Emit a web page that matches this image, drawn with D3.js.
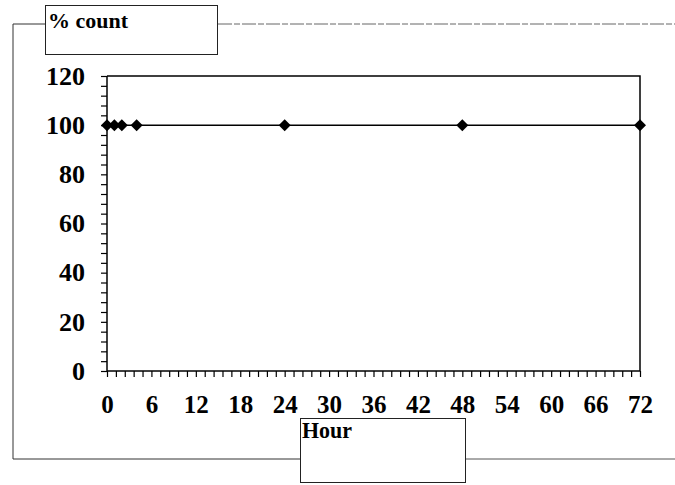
<!DOCTYPE html>
<html><head><meta charset="utf-8">
<script src="https://cdn.jsdelivr.net/npm/d3@7"></script>
<style>body{margin:0;background:#fff}svg{display:block}</style>
</head><body><svg id="c" width="675" height="485"></svg>
<script>
const hours = [0, 1, 2, 4, 24, 48, 72];
const percentCount = [100, 100, 100, 100, 100, 100, 100];
const xTicks = [0, 6, 12, 18, 24, 30, 36, 42, 48, 54, 60, 66, 72];
const yTicks = [0, 20, 40, 60, 80, 100, 120];
const yTitle = "% count";
const xTitle = "Hour";

const svg = d3.select("#c");
const L = 107, R = 640, T = 76, B = 371;
const x = d3.scaleLinear().domain([0, 72]).range([L, R]);
const y = d3.scaleLinear().domain([0, 120]).range([B, T]);
const font = "'Liberation Serif','Times New Roman',serif";

// outer frame lines
const fr = svg.append("g").attr("fill", "none").attr("stroke", "#333").attr("stroke-width", 1);
fr.append("path").attr("d", "M45,24H13V459H300");
fr.append("path").attr("d", "M466,459H675").attr("stroke", "#555");
fr.append("path").attr("d", "M218,24H675").attr("stroke", "#666").attr("stroke-dasharray", "14,2,6,2");

// title boxes
svg.append("rect").attr("x", 45.5).attr("y", 5.5).attr("width", 172).attr("height", 49)
  .attr("fill", "#fff").attr("stroke", "#222");
svg.append("text").attr("x", 48).attr("y", 28).attr("font-family", font).attr("font-weight", "bold")
  .attr("font-size", 22).attr("textLength", 80).attr("lengthAdjust", "spacingAndGlyphs").text(yTitle);
svg.append("rect").attr("x", 300.5).attr("y", 418.5).attr("width", 165).attr("height", 64)
  .attr("fill", "#fff").attr("stroke", "#222");
svg.append("text").attr("x", 302).attr("y", 438).attr("font-family", font).attr("font-weight", "bold")
  .attr("font-size", 24).attr("textLength", 50).attr("lengthAdjust", "spacingAndGlyphs").text(xTitle);

// plot border (top and right)
svg.append("path").attr("d", `M${L},${T}H${R}V${B}`).attr("fill", "none").attr("stroke", "#000").attr("stroke-width", 1.5);

// minor ticks
const yMinor = d3.range(0, 121, 4);
const xMinor = d3.range(0, 72.01, 1.2);
const yAxis = svg.append("g").attr("transform", `translate(${L},0)`)
  .call(d3.axisLeft(y).tickValues(yMinor).tickSize(6).tickFormat(""));
const xAxis = svg.append("g").attr("transform", `translate(0,${B})`)
  .call(d3.axisBottom(x).tickValues(xMinor).tickSize(6).tickFormat(""));
[yAxis, xAxis].forEach(a => {
  a.select(".domain").attr("stroke", "#000").attr("stroke-width", 1.5);
  a.selectAll("line").attr("stroke", "#000").attr("stroke-width", 1.2);
});
xAxis.select(".domain").attr("d", `M${L},0H${R}`);
yAxis.select(".domain").attr("d", `M0,${B}V${T}`);

// labels
const yl = svg.append("g").attr("transform", `translate(${L},0)`)
  .call(d3.axisLeft(y).tickValues(yTicks).tickSize(0).tickPadding(22));
yl.select(".domain").remove();
yl.selectAll("text").attr("font-family", font).attr("font-weight", "bold").attr("font-size", 26).attr("fill", "#000");
const xl = svg.append("g").attr("transform", `translate(0,${B})`)
  .call(d3.axisBottom(x).tickValues(xTicks).tickSize(0).tickPadding(24));
xl.select(".domain").remove();
xl.selectAll("text").attr("font-family", font).attr("font-weight", "bold").attr("font-size", 25).attr("fill", "#000");

// data line
svg.append("path").datum(hours.map((h, i) => [h, percentCount[i]]))
  .attr("fill", "none").attr("stroke", "#000").attr("stroke-width", 1.5)
  .attr("d", d3.line().x(d => x(d[0])).y(d => y(d[1])));
svg.append("g").selectAll("path").data(hours.map((h, i) => [h, percentCount[i]])).join("path")
  .attr("transform", d => `translate(${x(d[0])},${y(d[1])})`)
  .attr("d", "M0,-6L6,0L0,6L-6,0Z").attr("fill", "#000");
</script></body></html>
